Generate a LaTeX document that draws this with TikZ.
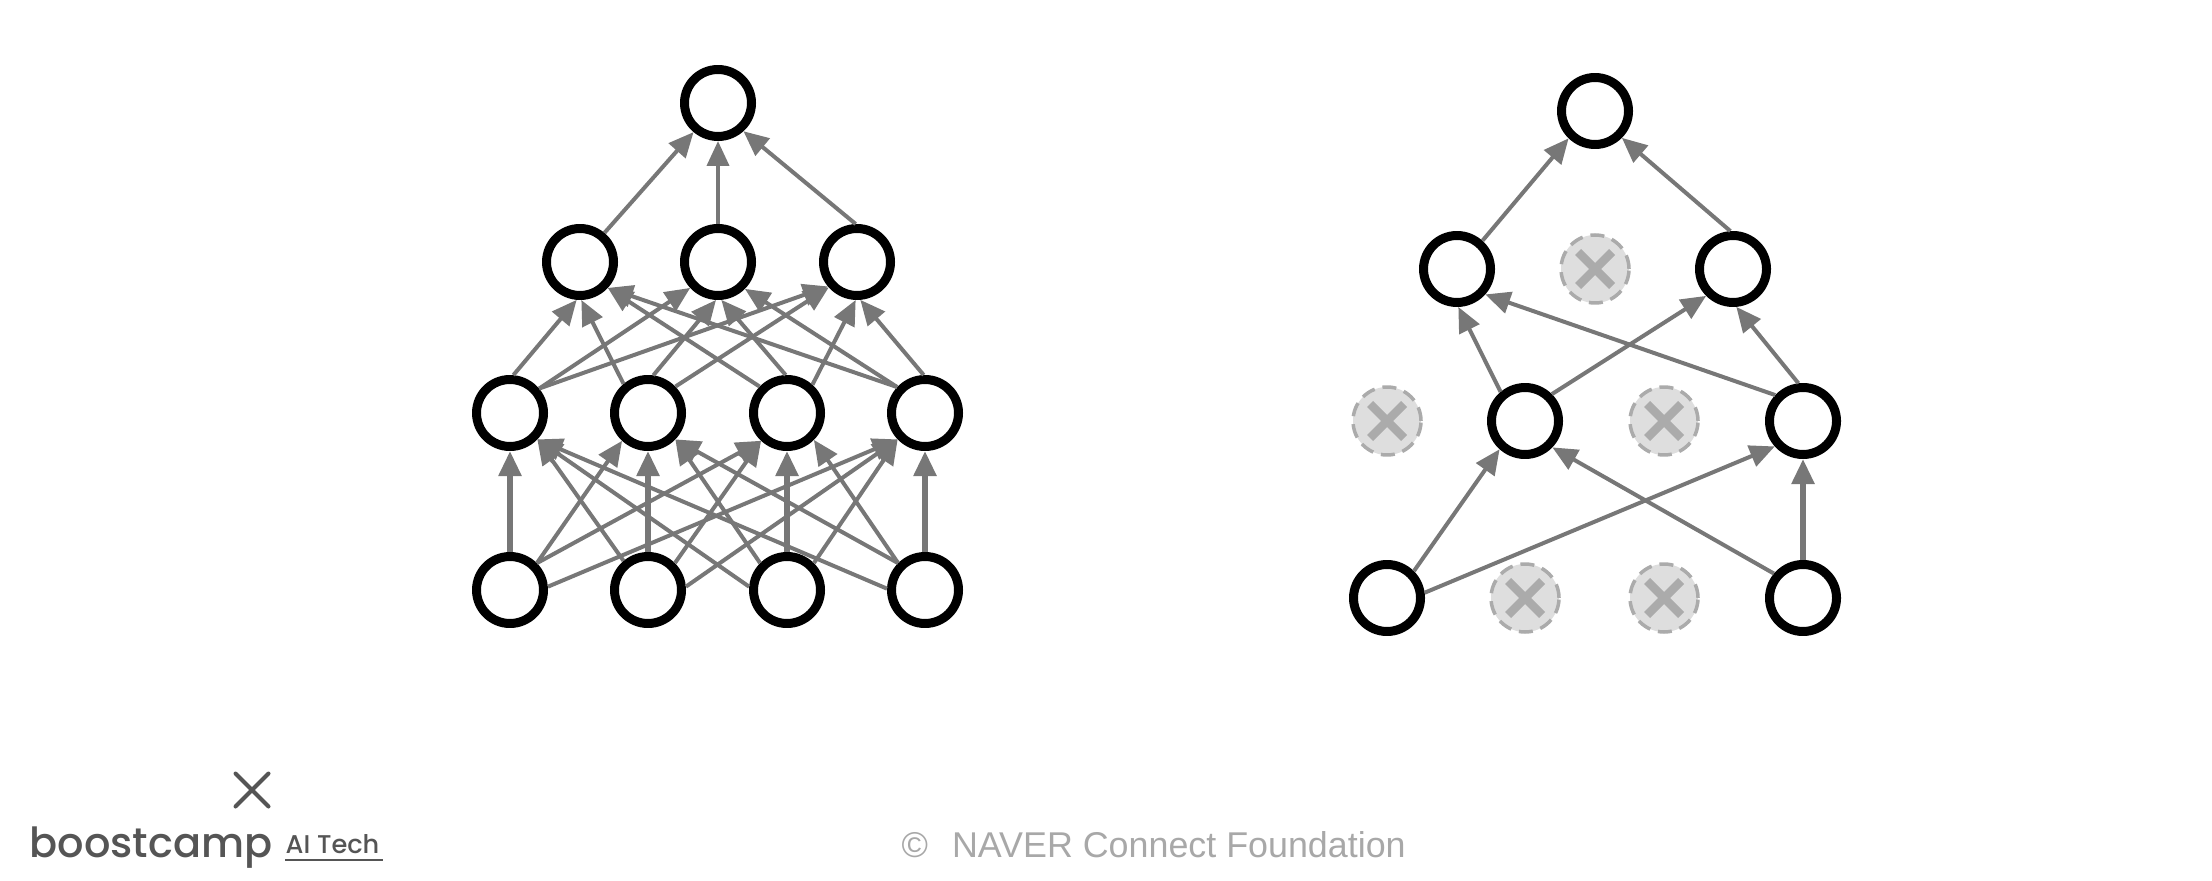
\documentclass[tikz,border=0pt]{standalone}
\usepackage{fontspec}
\setmainfont{Liberation Sans}
\newfontfamily\logofont{Poppins Medium}
\usetikzlibrary{arrows.meta}
\definecolor{edgegray}{HTML}{777777}
\definecolor{dropfill}{HTML}{DEDEDE}
\definecolor{dropline}{HTML}{ABABAB}
\definecolor{logogray}{HTML}{555555}
\definecolor{footgray}{HTML}{A8A8A8}
\tikzset{
 neuron/.style={circle,draw=black,fill=white,line width=.09cm,minimum size=.67cm,inner sep=0pt},
 dropped/.style={circle,draw=dropline,fill=dropfill,line width=.035cm,dash pattern=on .14cm off .08cm,minimum size=.68cm,inner sep=0pt},
 edgeline/.style={draw=edgegray,line width=.04cm,->},
 edgeup/.style={draw=edgegray,line width=.055cm,->},
 dropmark/.style={draw=dropline,line width=.085cm,line cap=butt}
}
\begin{document}
\begin{tikzpicture}[>={Triangle[length=.25cm,width=.22cm]},line join=round]
\useasboundingbox (0,0) rectangle (22.12,8.8);
% Full network at the left: four rows, every neighbour joined.
\foreach \x/\n in {5.10/a,6.48/b,7.87/c,9.25/d}{
 \node[neuron] (in\n) at (\x,2.90) {};
 \node[neuron] (hid\n) at (\x,4.67) {};
}
\foreach \x/\n in {5.80/a,7.18/b,8.57/c}
 \node[neuron] (up\n) at (\x,6.18) {};
\node[neuron] (out) at (7.18,7.77) {};
\foreach \s/\a/\t/\b in {a/45/b/227,a/45/c/227,a/5/d/224,
 b/130/a/316,b/45/c/227,b/5/d/224,
 c/175/a/316,c/135/b/316,c/45/d/224,
 d/178/a/316,d/135/b/316,d/135/c/315}
 \draw[edgeline] (in\s.\a)--(hid\t.\b);
\foreach \n in {a,b,c,d}
 \draw[edgeup] (in\n)--(hid\n);
\foreach \s/\a/\t/\b in {a/85/a/265,a/40/b/223,a/40/c/220,
 b/130/a/272,b/82/b/267,b/44/c/222,
 c/136/a/317,c/92/b/275,c/48/c/268,
 d/137/a/317,d/137/b/315,d/92/c/275}
 \draw[edgeline] (hid\s.\a)--(up\t.\b);
\draw[edgeline] (upa.50)--(out.230);
\draw[edgeline] (upb)--(out);
\draw[edgeline] (upc.92)--(out.312);
% Thinned network at the right: kept units first, then the dropped ones.
\node[neuron] (rina) at (13.87,2.82) {};
\node[neuron] (rind) at (18.03,2.82) {};
\node[neuron] (rhidb) at (15.25,4.59) {};
\node[neuron] (rhidd) at (18.03,4.59) {};
\node[neuron] (rupa) at (14.57,6.11) {};
\node[neuron] (rupc) at (17.33,6.11) {};
\node[neuron] (rout) at (15.95,7.69) {};
\draw[edgeline] (rina.45)--(rhidb.228);
\draw[edgeline] (rind.140)--(rhidb.316);
\draw[edgeline] (rina.8)--(rhidd.222);
\draw[edgeup] (rind)--(rhidd);
\draw[edgeline] (rhidb.130)--(rupa.272);
\draw[edgeline] (rhidb.45)--(rupc.225);
\draw[edgeline] (rhidd.137)--(rupa.318);
\draw[edgeline] (rhidd.97)--(rupc.275);
\draw[edgeline] (rupa.48)--(rout.226);
\draw[edgeline] (rupc.94)--(rout.315);
\foreach \x/\y/\n in {15.25/2.82/a,16.64/2.82/b,13.87/4.59/c,16.64/4.59/d,15.95/6.11/e}{
 \node[dropped] (drop\n) at (\x,\y) {};
 \draw[dropmark] (\x-.17,\y-.17)--(\x+.17,\y+.17)
 (\x-.17,\y+.17)--(\x+.17,\y-.17);
}
% Logo and footer.
\draw[logogray,line width=.04cm,line cap=round] (2.355,.735)--(2.685,1.065)
 (2.355,1.065)--(2.685,.735);
\node[anchor=base west,inner sep=0pt,text=logogray,font=\logofont\fontsize{11.8}{14}\selectfont] (boost) at (.29,.23) {boostcamp};
\node[anchor=base west,inner sep=0pt,text=logogray,font=\logofont\fontsize{7.3}{9}\selectfont] (aitech) at (2.85,.27) {AI Tech};
\draw[logogray,line width=.025cm] (2.85,.20)--(3.83,.20);
\node[anchor=base west,inner sep=0pt,text=footgray,font=\fontsize{10.2}{12}\selectfont] (foot) at (9.01,.23) {©\ \ \kern.04cm NAVER Connect Foundation};
\end{tikzpicture}
\end{document}
